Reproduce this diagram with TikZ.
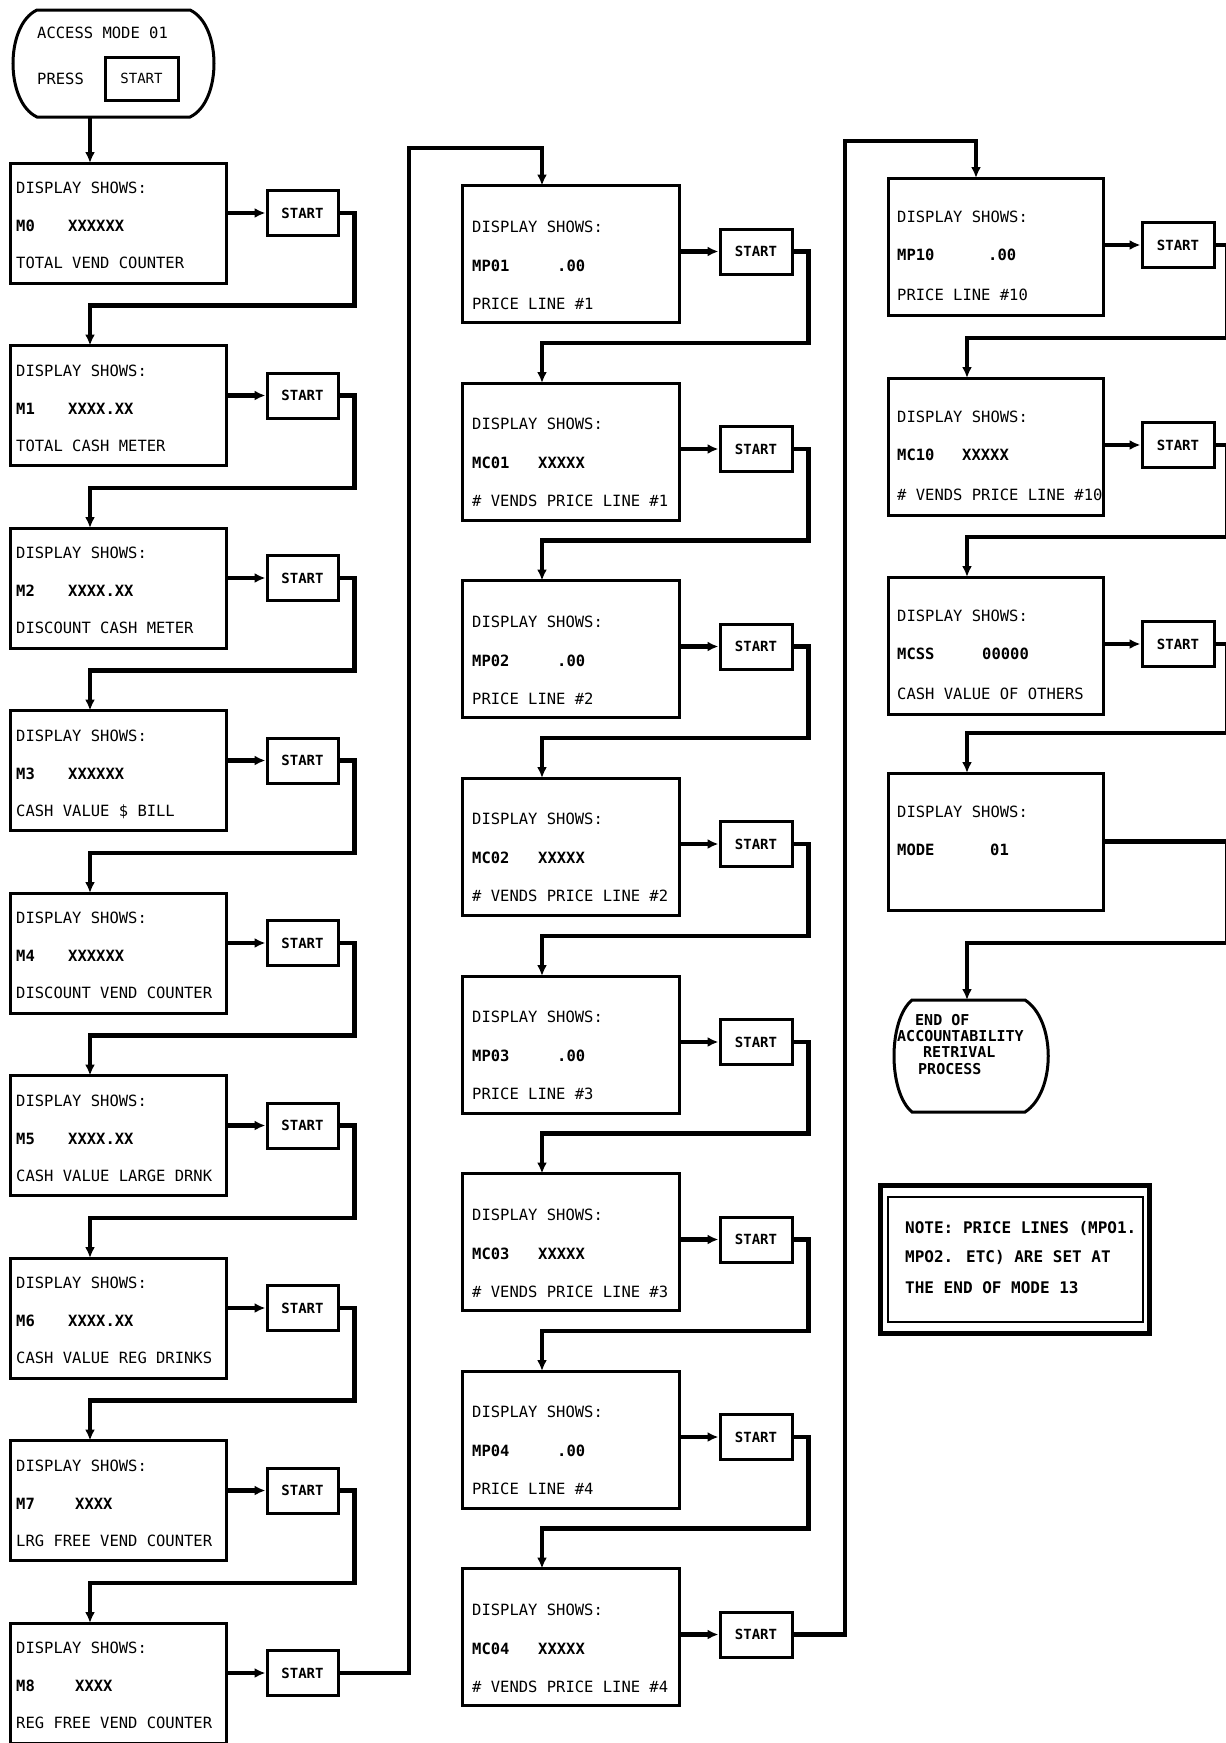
\documentclass[tikz,border=0pt]{standalone}
\usepackage{fontspec}
\usetikzlibrary{arrows.meta,calc}
\newfontfamily\plotfont{DejaVu Sans Mono}
\tikzset{
 x=1pt,y=1pt,
 dbox/.style={draw, line width=3pt, inner sep=0pt},
 sbox/.style={draw, line width=3pt, inner sep=0pt, minimum width=72pt, minimum height=45pt, font=\plotfont\bfseries\fontsize{14}{16}\selectfont},
 txt/.style={anchor=west, inner sep=0pt, text height=11pt, text depth=0pt, font=\plotfont\fontsize{15.5}{18}\selectfont},
 btxt/.style={txt, font=\plotfont\bfseries\fontsize{15.5}{18}\selectfont},
 conn/.style={line width=4.5pt},
 harrow/.style={conn, -{Latex[length=11pt,width=10pt]}},
 varrow/.style={conn, -{Latex[length=11pt,width=10pt]}},
 shape line/.style={line width=3pt},
}
% name, top, code, value x, value, description
\newcommand\leftcell[6]{%
 \node[dbox,minimum width=216pt,minimum height=120pt] (#1) at (118,-#2-60) {};
 \node[txt] (#1ta) at (16,-#2-25) {DISPLAY SHOWS:};
 \node[btxt] (#1tb) at (16,-#2-63) {#3};
 \node[btxt] (#1tc) at (#4,-#2-63) {#5};
 \node[txt] (#1td) at (16,-#2-100) {#6};
 \node[sbox,minimum width=71pt] (#1s) at (302.5,-#2-50) {START};
 \draw[harrow] (#1.east |- #1s.west) -- (#1s.west);
 \coordinate (#1in) at (90,-#2);
}
\newcommand\midcell[6]{%
 \node[dbox,minimum width=217pt,minimum height=137pt] (#1) at (570.5,-#2-68.5) {};
 \node[txt] (#1ta) at (472,-#2-41) {DISPLAY SHOWS:};
 \node[btxt] (#1tb) at (472,-#2-80) {#3};
 \node[btxt] (#1tc) at (#4,-#2-80) {#5};
 \node[txt] (#1td) at (472,-#2-118) {#6};
 \node[sbox] (#1s) at (756,-#2-66) {START};
 \draw[harrow] (#1.east |- #1s.west) -- (#1s.west);
 \coordinate (#1in) at (542,-#2);
}
\newcommand\rightcell[6]{%
 \node[dbox,minimum width=215pt,minimum height=137pt] (#1) at (995.5,-#2-68.5) {};
 \node[txt] (#1ta) at (897,-#2-39) {DISPLAY SHOWS:};
 \node[btxt] (#1tb) at (897,-#2-77) {#3};
 \node[btxt] (#1tc) at (#4,-#2-77) {#5};
 \node[txt] (#1td) at (897,-#2-117) {#6};
 \node[sbox] (#1s) at (1178,-#2-67) {START};
 \draw[harrow] (#1.east |- #1s.west) -- (#1s.west);
 \coordinate (#1in) at (967,-#2);
}
\begin{document}
\begin{tikzpicture}
\useasboundingbox (0,0) rectangle (1226,-1743);
\clip (0,0) rectangle (1226,-1743);
\fill[white] (0,0) rectangle (1226,-1743);

% ---- access oval
\draw[shape line] (37,-10) -- (190,-10) .. controls (222,-25) and (222,-102) .. (190,-117)
  -- (37,-117) .. controls (5,-102) and (5,-25) .. cycle;
\node[inner sep=0pt,minimum width=203pt,minimum height=107pt] (access) at (113.5,-63.5) {};
\node[txt] (acct1) at (37,-33) {ACCESS MODE 01};
\node[txt] (acct2) at (37,-79) {PRESS};
\node[sbox,minimum width=73pt,minimum height=43pt,font=\plotfont\fontsize{14}{16}\selectfont] (accs) at (141.5,-78.5) {START};

% ---- left column
\leftcell{m0}{163}{M0}{68}{XXXXXX}{TOTAL VEND COUNTER}
\leftcell{m1}{345.5}{M1}{68}{XXXX.XX}{TOTAL CASH METER}
\leftcell{m2}{528}{M2}{68}{XXXX.XX}{DISCOUNT CASH METER}
\leftcell{m3}{710.5}{M3}{68}{XXXXXX}{CASH VALUE \$ BILL}
\leftcell{m4}{893}{M4}{68}{XXXXXX}{DISCOUNT VEND COUNTER}
\leftcell{m5}{1075.5}{M5}{68}{XXXX.XX}{CASH VALUE LARGE DRNK}
\leftcell{m6}{1258}{M6}{68}{XXXX.XX}{CASH VALUE REG DRINKS}
\leftcell{m7}{1440.5}{M7}{75}{XXXX}{LRG FREE VEND COUNTER}
\leftcell{m8}{1623}{M8}{75}{XXXX}{REG FREE VEND COUNTER}

% ---- middle column
\midcell{p1}{185.5}{MP01}{557}{.00}{PRICE LINE \#1}
\midcell{c1}{383}{MC01}{538}{XXXXX}{\# VENDS PRICE LINE \#1}
\midcell{p2}{580.5}{MP02}{557}{.00}{PRICE LINE \#2}
\midcell{c2}{778}{MC02}{538}{XXXXX}{\# VENDS PRICE LINE \#2}
\midcell{p3}{976}{MP03}{557}{.00}{PRICE LINE \#3}
\midcell{c3}{1173.5}{MC03}{538}{XXXXX}{\# VENDS PRICE LINE \#3}
\midcell{p4}{1371}{MP04}{557}{.00}{PRICE LINE \#4}
\midcell{c4}{1568.5}{MC04}{538}{XXXXX}{\# VENDS PRICE LINE \#4}

% ---- right column
\rightcell{r1}{178}{MP10}{988}{.00}{PRICE LINE \#10}
\coordinate (r1top) at (976,-178);
\rightcell{r2}{378}{MC10}{962}{XXXXX}{\# VENDS PRICE LINE \#10}
\rightcell{r3}{577}{MCSS}{982}{00000}{CASH VALUE OF OTHERS}
\node[dbox,minimum width=215pt,minimum height=137pt] (r4) at (995.5,-841.5) {};
\node[txt] (r4ta) at (897,-812) {DISPLAY SHOWS:};
\node[btxt] (r4tb) at (897,-850) {MODE};
\node[btxt] (r4tc) at (990,-850) {01};
\coordinate (r4in) at (967,-773);

% ---- end oval
\draw[shape line] (912,-1000) -- (1025,-1000) .. controls (1056,-1020) and (1056,-1092) .. (1025,-1112)
  -- (912,-1112) .. controls (888,-1092) and (888,-1020) .. cycle;
\node[inner sep=0pt,minimum width=153pt,minimum height=112pt] (endo) at (971.5,-1056) {};
\coordinate (endin) at (967,-1000);
\node[btxt,font=\plotfont\bfseries\fontsize{15}{17}\selectfont] (e1) at (915,-1020) {END OF};
\node[btxt,font=\plotfont\bfseries\fontsize{15}{17}\selectfont] (e2) at (897,-1036) {ACCOUNTABILITY};
\node[btxt,font=\plotfont\bfseries\fontsize{15}{17}\selectfont] (e3) at (923,-1052) {RETRIVAL};
\node[btxt,font=\plotfont\bfseries\fontsize{15}{17}\selectfont] (e4) at (918,-1069) {PROCESS};

% ---- note
\node[draw,line width=5pt,inner sep=0pt,minimum width=269pt,minimum height=148pt] (noteout) at (1014.5,-1259) {};
\node[draw,line width=2.5pt,inner sep=0pt,minimum width=255pt,minimum height=125pt] (notein) at (1015.5,-1259.5) {};
\node[btxt,font=\plotfont\bfseries\fontsize{16}{18}\selectfont] (n1) at (905,-1228) {NOTE: PRICE LINES (MPO1.};
\node[btxt,font=\plotfont\bfseries\fontsize{16}{18}\selectfont] (n2) at (905,-1257) {MPO2. ETC) ARE SET AT};
\node[btxt,font=\plotfont\bfseries\fontsize{16}{18}\selectfont] (n3) at (905,-1288) {THE END OF MODE 13};

% ---- connectors
\draw[varrow] (access.south -| m0in) -- (m0in);
\foreach \a/\b in {m0/m1,m1/m2,m2/m3,m3/m4,m4/m5,m5/m6,m6/m7,m7/m8,
                   p1/c1,c1/p2,p2/c2,c2/p3,p3/c3,c3/p4,p4/c4}
  \draw[varrow] (\a s.east) -- ++(15,0) |- ($(\b in)+(0,40)$) -- (\b in);
\draw[varrow] (m8s.east) -| (409,-148) -| (p1in);
\draw[varrow] (c4s.east) -| (845,-141) -| (r1top);
\foreach \a/\b in {r1/r2,r2/r3,r3/r4}
  \draw[varrow] (\a s.east) -- ++(12,0) |- ($(\b in)+(0,40)$) -- (\b in);
\draw[varrow] (r4.east) -- ++(123,0) |- ($(endin)+(0,57)$) -- (endin);
\end{tikzpicture}
\end{document}
